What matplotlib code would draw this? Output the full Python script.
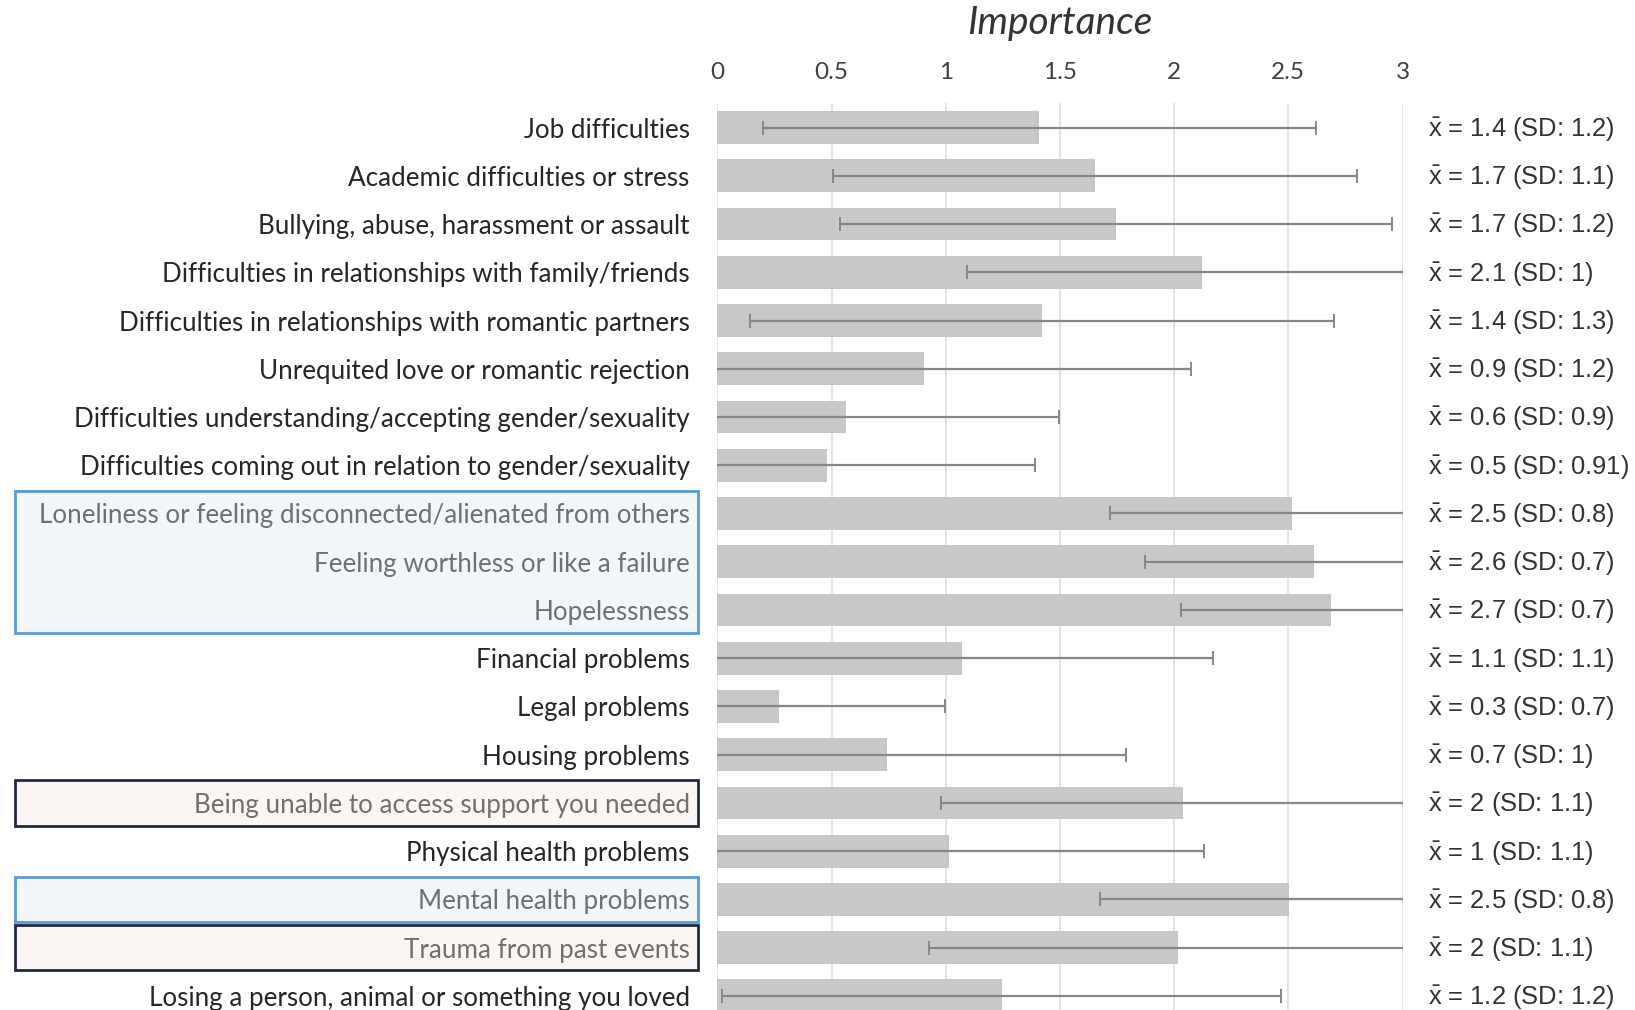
import matplotlib.pyplot as plt
import matplotlib.transforms as mtransforms
from matplotlib.patches import Rectangle

plt.rcParams["mathtext.fontset"] = "custom"
plt.rcParams["mathtext.rm"] = "Liberation Sans"

# Stressors rated for importance (0-3 scale), top to bottom
categories = [
    "Job difficulties",
    "Academic difficulties or stress",
    "Bullying, abuse, harassment or assault",
    "Difficulties in relationships with family/friends",
    "Difficulties in relationships with romantic partners",
    "Unrequited love or romantic rejection",
    "Difficulties understanding/accepting gender/sexuality",
    "Difficulties coming out in relation to gender/sexuality",
    "Loneliness or feeling disconnected/alienated from others",
    "Feeling worthless or like a failure",
    "Hopelessness",
    "Financial problems",
    "Legal problems",
    "Housing problems",
    "Being unable to access support you needed",
    "Physical health problems",
    "Mental health problems",
    "Trauma from past events",
    "Losing a person, animal or something you loved",
]
means = [1.41, 1.652, 1.746, 2.12, 1.42, 0.905, 0.565, 0.48, 2.517, 2.613,
         2.689, 1.07, 0.271, 0.744, 2.04, 1.013, 2.501, 2.018, 1.246]
sds = [1.21, 1.147, 1.209, 1.026, 1.278, 1.17, 0.93, 0.91, 0.798, 0.74,
       0.661, 1.10, 0.726, 1.047, 1.063, 1.118, 0.827, 1.091, 1.224]
sd_decimals = [1] * 7 + [2] + [1] * 11

# highlighted label groups: (first row, last row)
blue_groups = [(8, 10), (16, 16)]
navy_groups = [(14, 14), (17, 17)]

fig = plt.figure(figsize=(16.35, 10.1), dpi=100)
ax = fig.add_axes([0.4388, -0.0099, 0.4190, 0.9075])

y = list(range(len(categories)))
ax.barh(y, means, height=0.68, color="#c7c8ca", zorder=2)
ax.errorbar(means, y, xerr=sds, fmt="none", ecolor="#878787", elinewidth=1.6,
            capsize=5, capthick=1.4, zorder=3)

ax.set_xlim(0, 3)
ax.set_ylim(len(categories) - 0.5, -0.5)
ax.set_xticks([0, 0.5, 1, 1.5, 2, 2.5, 3])
ax.set_xticklabels(["0", "0.5", "1", "1.5", "2", "2.5", "3"])
ax.xaxis.tick_top()
ax.tick_params(axis="x", length=0, pad=15, labelsize=17.5, labelcolor="#404040")
for lab in ax.get_xticklabels():
    lab.set_fontfamily("Lato")
ax.grid(axis="x", color="#dcdcdc", linewidth=1.1, zorder=0)
for s in ax.spines.values():
    s.set_visible(False)

ax.set_yticks(y)
ax.set_yticklabels(categories, fontfamily="Lato", fontsize=18.7)
ax.tick_params(axis="y", length=0, pad=20)

boxed = set()
for a, b in blue_groups + navy_groups:
    boxed.update(range(a, b + 1))
for i, lab in enumerate(ax.get_yticklabels()):
    lab.set_color("#707070" if i in boxed else "#262626")

ax.set_title("Importance", fontfamily="Lato", fontstyle="italic", fontsize=28,
             color="#333333", pad=50)

trans = mtransforms.blended_transform_factory(ax.transAxes, ax.transData)

def draw_box(first, last, face, edge):
    r = Rectangle((-1.026, first - 0.47), 0.998, last - first + 0.94,
                  transform=trans, facecolor=face, edgecolor=edge,
                  linewidth=2, clip_on=False, zorder=0)
    ax.add_patch(r)

for a, b in blue_groups:
    draw_box(a, b, "#f2f6fa", "#5b9bd5")
for a, b in navy_groups:
    draw_box(a, b, "#fcf6f2", "#1f2a44")

# mean (SD) annotations to the right of the plot
for i, (m, s) in enumerate(zip(means, sds)):
    txt = r"$\bar{\mathrm{x}}$" + " = {:g} (SD: {:g})".format(round(m, 1), round(s, sd_decimals[i]))
    ax.text(1.037, i + 0.03, txt, transform=trans, ha="left", va="center",
            fontfamily="Liberation Sans", fontsize=18.4, color="#333333",
            clip_on=False)

fig.savefig("out.png", dpi=100)
